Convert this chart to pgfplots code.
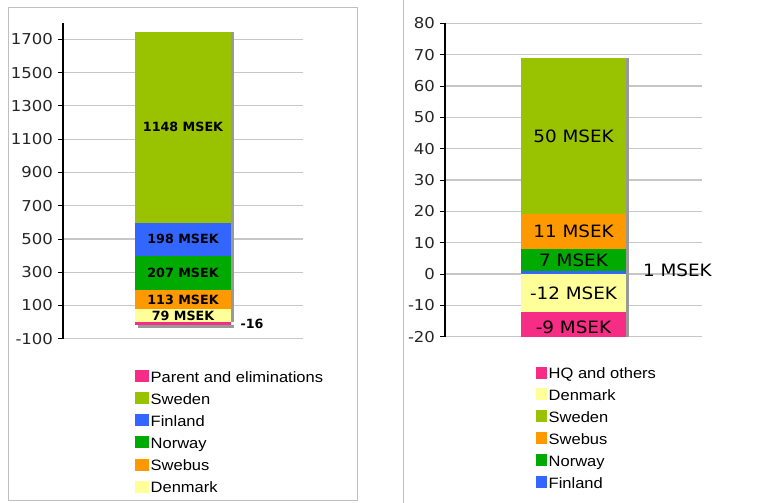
\documentclass[border=0pt]{standalone}
\usepackage{pgfplots}
\pgfplotsset{compat=1.18}
\usepackage{fontspec}
\setmainfont{Liberation Sans}[FakeStretch=1.1]
\newfontfamily\dejavu{DejaVu Sans}[FakeStretch=1.1]
\newfontfamily\dejavuB{DejaVu Sans}[FakeStretch=1.0]
\newfontfamily\dejavuW{DejaVu Sans}[FakeStretch=1.08]
\usetikzlibrary{shadows}

\definecolor{cPink}{RGB}{247,44,132}
\definecolor{cSweden}{RGB}{153,194,0}
\definecolor{cFinland}{RGB}{51,102,255}
\definecolor{cNorway}{RGB}{0,170,0}
\definecolor{cSwebus}{RGB}{255,153,0}
\definecolor{cDenmark}{RGB}{255,255,153}

\newcommand\lblL{\dejavuB\bfseries\fontsize{12.7}{15}\selectfont}
\newcommand\lblR{\dejavuW\fontsize{17}{20}\selectfont}

\pgfplotsset{
  panel/.style={
    scale only axis,
    clip mode=individual,
    ybar stacked,
    stack negative=separate,
    xmin=-1, xmax=1,
    xtick=\empty,
    axis x line=none,
    axis y line*=left,
    ymajorgrids,
    grid style={black!22, line width=1.2pt},
    axis line style={black, line width=1.3pt},
    tick style={black, line width=0.8pt},
    tick align=outside,
    major tick length=5pt,
    yticklabel style={font=\dejavu\fontsize{15}{17}\selectfont, text=black!85, xshift=-1.5pt},
    /pgf/number format/assume math mode=true,
    /pgf/number format/1000 sep={},
    point meta=rawy,
    legend cell align=left,
    legend style={draw=none, fill=none, inner sep=0pt, anchor=north west,
      font=\fontsize{15}{18}\selectfont,
      nodes={inner sep=1.5pt, text height=13pt, text depth=5pt}},
  },
  seg/.style={fill=#1, draw=none,
    drop shadow={shadow xshift=3pt, shadow yshift=0pt, fill=black!40, opacity=1}},
  segbottom/.style={fill=#1, draw=none,
    drop shadow={shadow xshift=3pt, shadow yshift=-3pt, fill=black!40, opacity=1}},
  % value written inside its own segment
  midlabel/.style={
    nodes near coords={\pgfmathprintnumber{\pgfplotspointmeta}~MSEK},
    nodes near coords style={anchor=center, font=#1}},
  sqL/.style={legend image code/.code={\fill[fill=#1, draw=none] (0pt,-4pt) rectangle (14pt,8pt);}},
  sqR/.style={legend image code/.code={\fill[fill=#1, draw=none] (0pt,-4pt) rectangle (11pt,8pt);}},
}

\begin{document}
\begin{tikzpicture}[x=1pt, y=1pt]
\path[use as bounding box] (0,0) rectangle (760,503);
\draw[black!25, line width=1pt] (8.5,2) rectangle (357,495);
\draw[black!25, line width=1pt] (403,0) -- (403,503);

% Operating result per segment
\begin{axis}[panel,
  at={(63pt,164.3pt)}, anchor=south west,
  width=240pt, height=316pt,
  ymin=-100, ymax=1800,
  ytick={-100,100,...,1700},
  bar width=96.7pt,
  legend style={at={(0.3,-0.091)}, row sep=1.1pt},
]
\addlegendimage{sqL=cPink}\addlegendentry{Parent and eliminations}
\addlegendimage{sqL=cSweden}\addlegendentry{Sweden}
\addlegendimage{sqL=cFinland}\addlegendentry{Finland}
\addlegendimage{sqL=cNorway}\addlegendentry{Norway}
\addlegendimage{sqL=cSwebus}\addlegendentry{Swebus}
\addlegendimage{sqL=cDenmark}\addlegendentry{Denmark}

\addplot[seg=cDenmark, midlabel=\lblL] coordinates {(0,79)};
\addplot[seg=cSwebus,  midlabel=\lblL] coordinates {(0,113)};
\addplot[seg=cNorway,  midlabel=\lblL] coordinates {(0,207)};
\addplot[seg=cFinland, midlabel=\lblL] coordinates {(0,198)};
\addplot[seg=cSweden,  midlabel=\lblL] coordinates {(0,1148)};
\addplot[segbottom=cPink,
  nodes near coords={\pgfmathprintnumber{\pgfplotspointmeta}},
  nodes near coords style={anchor=west, xshift=54pt, font=\lblL}]
  coordinates {(0,-16)};
\end{axis}

% Result per segment, second panel
\begin{axis}[panel,
  at={(445pt,166.3pt)}, anchor=south west,
  width=257pt, height=313.4pt,
  ymin=-20, ymax=80,
  ytick={-20,-10,...,80},
  bar width=104.3pt,
  legend style={at={(0.354,-0.0865)}, row sep=0.9pt},
]
\addlegendimage{sqR=cPink}\addlegendentry{HQ and others}
\addlegendimage{sqR=cDenmark}\addlegendentry{Denmark}
\addlegendimage{sqR=cSweden}\addlegendentry{Sweden}
\addlegendimage{sqR=cSwebus}\addlegendentry{Swebus}
\addlegendimage{sqR=cNorway}\addlegendentry{Norway}
\addlegendimage{sqR=cFinland}\addlegendentry{Finland}

\addplot[seg=cFinland,
  nodes near coords={\pgfmathprintnumber{\pgfplotspointmeta}~MSEK},
  nodes near coords style={anchor=west, xshift=66pt, yshift=2pt, font=\lblR}]
  coordinates {(0,1)};
\addplot[seg=cNorway,  midlabel=\lblR] coordinates {(0,7)};
\addplot[seg=cSwebus,  midlabel=\lblR] coordinates {(0,11)};
\addplot[seg=cSweden,  midlabel=\lblR] coordinates {(0,50)};
\addplot[seg=cDenmark, midlabel=\lblR] coordinates {(0,-12)};
\addplot[seg=cPink] coordinates {(0,-9)};
% the HQ segment runs past the lower limit; its label goes in the visible part
\coordinate (hqlabel) at (axis cs:0,-17);
\end{axis}
\node[font=\lblR] at (hqlabel) {-9~MSEK};
\end{tikzpicture}
\end{document}
